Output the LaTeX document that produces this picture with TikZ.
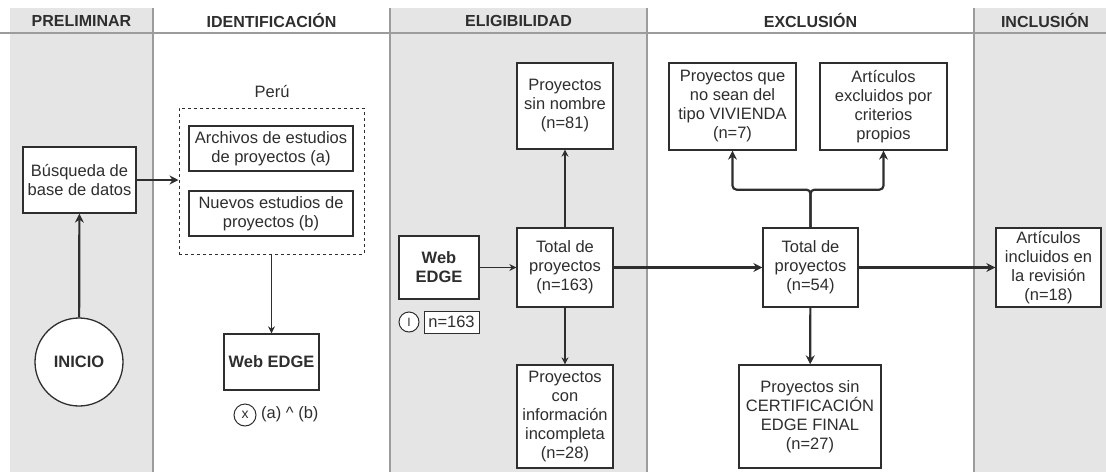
\documentclass[tikz,border=0pt]{standalone}
\usepackage{fontspec}
\setmainfont{Liberation Sans}
\usetikzlibrary{arrows.meta}
\definecolor{lane}{HTML}{E5E5E5}
\definecolor{rule}{HTML}{9C9C9C}
\definecolor{ink}{HTML}{2E2E2E}
\newcommand{\txtsize}{\fontsize{16.5}{19}\selectfont}
\tikzset{
  box/.style={draw=ink,line width=1.3pt,fill=white,align=center,inner sep=2pt,text=ink,font=\txtsize},
  lbl/.style={text=ink,font=\txtsize},
  head/.style={text=ink,font=\fontsize{16}{19}\selectfont\bfseries},
  thin/.style={draw=ink,line width=1.2pt,-{Stealth[length=7pt,width=7pt]}},
  thick/.style={draw=ink,line width=2.2pt,-{Stealth[length=9pt,width=9pt]}}
}
\begin{document}
\begin{tikzpicture}[x=1pt,y=-1pt]
          \useasboundingbox (0,0) rectangle (1106,472);
          % lanes
          \fill [lane] (10,8) rectangle (153,472);
          \fill [lane] (390,8) rectangle (647,472);
          \fill [lane] (974,8) rectangle (1106,472);
          \foreach \xl in {153,390,647,974}
            \draw [rule,line width=1.3pt] (\xl,8) -- (\xl,472);
          \draw [rule,line width=1.5pt] (0,33) -- (1106,33);
          \node [head] (h1) at (81.5,20.5) {PRELIMINAR};
          \node [head] (h2) at (271.5,20.5) {IDENTIFICACIÓN};
          \node [head] (h3) at (518.5,20.5) {ELIGIBILIDAD};
          \node [head] (h4) at (810.5,20.5) {EXCLUSIÓN};
          \node [head] (h5) at (1045,20.5) {INCLUSIÓN};
          % preliminar
          \node [box,minimum width=113,minimum height=66] (busq) at (79.5,180) {Búsqueda de\\base de datos};
          \node [box,circle,minimum size=88,font=\txtsize\bfseries] (inicio) at (79,362) {INICIO};
          % identificacion
          \node [lbl] (peru) at (272,92) {Perú};
          \node [draw=ink,line width=1pt,dashed,minimum width=185,minimum height=146] (grupo) at (271.5,181) {};
          \node [box,minimum width=164,minimum height=45] (arch) at (271,148.5) {Archivos de estudios\\de proyectos (a)};
          \node [box,minimum width=164,minimum height=45] (nuevo) at (271,213.5) {Nuevos estudios de\\proyectos (b)};
          \node [box,minimum width=95,minimum height=56,font=\txtsize\bfseries] (web1) at (271.5,362) {Web EDGE};
          \node [draw=ink,line width=1pt,circle,minimum size=22,inner sep=0pt,font=\fontsize{14}{14}\selectfont,text=ink] (cx) at (245,415) {x};
          \node [lbl,anchor=west,inner sep=0pt] (ab) at (261,414) {(a) \textasciicircum\ (b)};
          % eligibilidad
          \node [box,minimum width=80,minimum height=63,font=\txtsize\bfseries] (web2) at (439,267.5) {Web\\EDGE};
          \node [draw=ink,line width=1pt,fill=white,circle,minimum size=20,inner sep=0pt,font=\fontsize{12}{12}\selectfont,text=ink] (ci) at (409,322) {I};
          \node [box,line width=1pt,minimum width=55,minimum height=22,inner sep=1pt] (n163) at (451.5,322) {n=163};
          \node [box,minimum width=96,minimum height=79] (tot1) at (565,267.5) {Total de\\proyectos\\(n=163)};
          \node [box,minimum width=96,minimum height=86] (sinnom) at (565,106) {Proyectos\\sin nombre\\(n=81)};
          \node [box,minimum width=96,minimum height=103] (incomp) at (565,416.5) {Proyectos\\con\\información\\incompleta\\(n=28)};
          % exclusion
          \node [box,minimum width=127,minimum height=87] (viv) at (732.5,106.5) {Proyectos que\\no sean del\\tipo VIVIENDA\\(n=7)};
          \node [box,minimum width=127,minimum height=87] (crit) at (883.5,106.5) {Artículos\\excluidos por\\criterios\\propios};
          \node [box,minimum width=95,minimum height=79] (tot2) at (810.5,267.5) {Total de\\proyectos\\(n=54)};
          \node [box,minimum width=142,minimum height=103] (cert) at (810,416.5) {Proyectos sin\\CERTIFICACIÓN\\EDGE FINAL\\(n=27)};
          % inclusion
          \node [box,minimum width=105,minimum height=79] (incl) at (1048.5,267.5) {Artículos\\incluidos en\\la revisión\\(n=18)};
          % connectors
          \draw [thick] (inicio) -- (busq);
          \draw [thick,line width=1.8pt] (busq.east) -- (busq.east -| grupo.west);
          \draw [thin] (grupo) -- (web1);
          \draw [thin] (web2) -- (tot1);
          \draw [thin] (tot1) -- (sinnom);
          \draw [thin] (tot1) -- (incomp);
          \draw [thick] (tot1) -- (tot2);
          \draw [thick,rounded corners=4pt] (tot2.north) |- ([yshift=-39]viv.south) -- (viv.south);
          \draw [thick,rounded corners=4pt] (tot2.north) |- ([yshift=-39]crit.south) -- (crit.south);
          \draw [thick] (tot2) -- (cert);
          \draw [thick] (tot2) -- (incl);
\end{tikzpicture}
\end{document}
